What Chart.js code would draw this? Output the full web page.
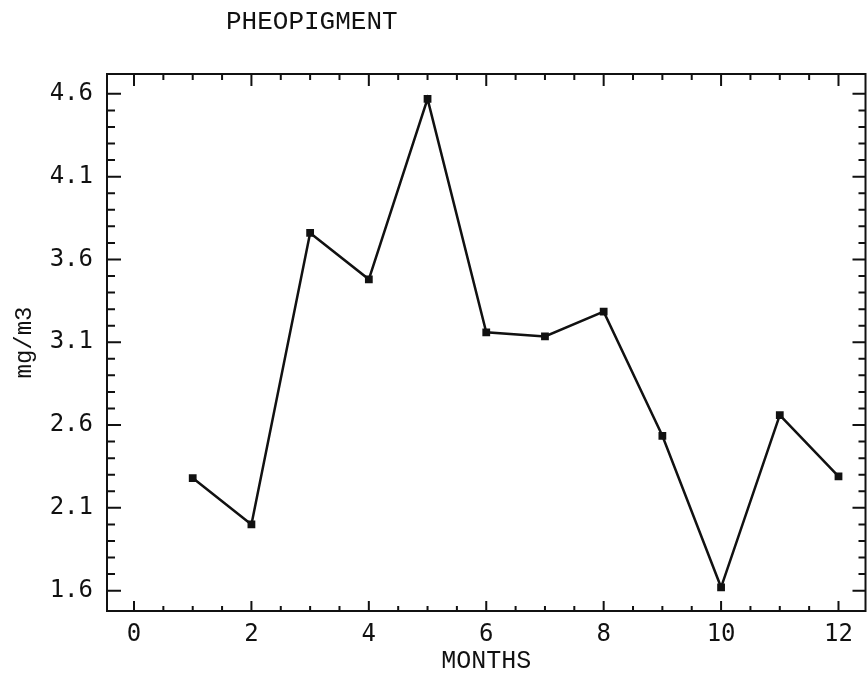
<!DOCTYPE html>
<html>
<head>
<meta charset="utf-8">
<script src="https://cdn.jsdelivr.net/npm/chart.js@4/dist/chart.umd.min.js"></script>
<style>
  body { margin: 0; background: #fff; }
  canvas { display: block; }
</style>
</head>
<body>
<canvas id="chart" width="867" height="676"></canvas>
<script>
// monthly pheopigment, mg/m3
const months = [1, 2, 3, 4, 5, 6, 7, 8, 9, 10, 11, 12];
const pheo = [2.28, 2.0, 3.76, 3.48, 4.57, 3.16, 3.135, 3.285, 2.535, 1.62, 2.66, 2.29];

const xTicks = [0, 2, 4, 6, 8, 10, 12];
const yTicks = [1.6, 2.1, 2.6, 3.1, 3.6, 4.1, 4.6];

const chartTitle = 'PHEOPIGMENT';
const xTitle = 'MONTHS';
const yTitle = 'mg/m3';

const ink = '#111';

// box round the plot with ticks pointing inwards on all four sides
const frameTicks = {
    id: 'frameTicks',
    afterDatasetsDraw(chart) {
        const ctx = chart.ctx;
        const a = chart.chartArea;
        const xs = chart.scales.x;
        const ys = chart.scales.y;
        ctx.save();
        ctx.strokeStyle = ink;
        ctx.lineWidth = 2;
        ctx.strokeRect(a.left, a.top, a.right - a.left, a.bottom - a.top);

        ctx.beginPath();
        for (let v = 0; v <= 12.001; v += 0.5) {
            let px = xs.getPixelForValue(v);
            let major = Math.abs(v % 2) < 0.01;
            let lenB = major ? 10 : 5;
            let lenT = major ? 12 : 6;
            ctx.moveTo(px, a.bottom);
            ctx.lineTo(px, a.bottom - lenB);
            ctx.moveTo(px, a.top);
            ctx.lineTo(px, a.top + lenT);
        }
        for (let i = 0; i <= 30; i++) {
            let v = 1.6 + i * 0.1;
            let py = ys.getPixelForValue(v);
            let major = i % 5 === 0;
            let lenL = major ? 14 : 8;
            let lenR = major ? 13 : 7;
            ctx.moveTo(a.left, py);
            ctx.lineTo(a.left + lenL, py);
            ctx.moveTo(a.right, py);
            ctx.lineTo(a.right - lenR, py);
        }
        ctx.stroke();
        ctx.restore();
    }
};

const topTitle = {
    id: 'topTitle',
    afterDraw(chart) {
        const ctx = chart.ctx;
        const a = chart.chartArea;
        ctx.save();
        ctx.fillStyle = ink;
        ctx.font = '26px "Liberation Mono"';
        ctx.textAlign = 'center';
        ctx.textBaseline = 'middle';
        ctx.fillText(chartTitle, a.left + (a.right - a.left) * 0.27, 22);
        ctx.restore();
    }
};

new Chart(document.getElementById('chart'), {
    type: 'line',
    data: {
        datasets: [{
            label: 'Pheopigment',
            data: months.map((m, i) => ({ x: m, y: pheo[i] })),
            borderColor: ink,
            backgroundColor: ink,
            borderWidth: 2.5,
            pointStyle: 'rect',
            pointRadius: 5.5,
            pointBorderWidth: 0,
            tension: 0
        }]
    },
    options: {
        responsive: false,
        animation: false,
        layout: {
            autoPadding: false,
            padding: { top: 74, right: 1.5, left: 0, bottom: 0 }
        },
        plugins: {
            legend: { display: false },
            tooltip: { enabled: false }
        },
        scales: {
            x: {
                type: 'linear',
                min: -0.46,
                max: 12.46,
                afterBuildTicks: s => { s.ticks = xTicks.map(v => ({ value: v })); },
                afterFit: s => {
                    s.height = 65;
                    s.paddingLeft = 0;
                    s.paddingRight = 0;
                },
                grid: { display: false, drawTicks: false },
                border: { display: false },
                ticks: {
                    color: ink,
                    padding: 9,
                    maxRotation: 0,
                    font: { family: 'DejaVu Sans Mono', size: 24 }
                },
                title: {
                    display: true,
                    text: xTitle,
                    color: ink,
                    padding: 0,
                    font: { family: 'Liberation Mono', size: 25 }
                }
            },
            y: {
                type: 'linear',
                min: 1.477,
                max: 4.72,
                afterBuildTicks: s => { s.ticks = yTicks.map(v => ({ value: v })); },
                afterFit: s => {
                    s.width = 107;
                    s.paddingTop = 0;
                    s.paddingBottom = 0;
                },
                grid: { display: false, drawTicks: false },
                border: { display: false },
                ticks: {
                    color: ink,
                    padding: 14,
                    callback: v => v.toFixed(1),
                    font: { family: 'DejaVu Sans Mono', size: 24 }
                },
                title: {
                    display: true,
                    text: yTitle,
                    color: ink,
                    padding: { top: 10, bottom: 0 },
                    font: { family: 'Liberation Mono', size: 24 }
                }
            }
        }
    },
    plugins: [frameTicks, topTitle]
});
</script>
</body>
</html>
